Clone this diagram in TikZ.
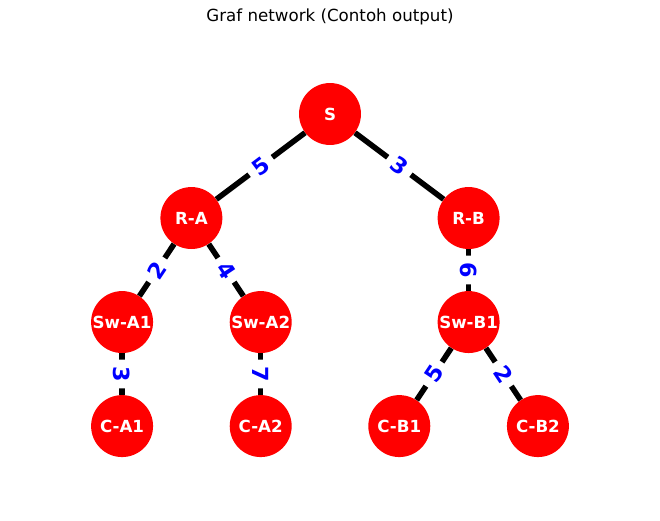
\documentclass[tikz,border=0pt]{standalone}
\usepackage{fontspec}
\setmainfont{DejaVu Sans}
\usetikzlibrary{positioning}
\definecolor{nodered}{RGB}{255,0,0}
\definecolor{labelblue}{RGB}{0,0,255}
\tikzset{%
  host/.style = {circle,fill=nodered,text=white,inner sep=0pt,
        minimum size=44.6pt,font=\fontsize{12}{14}\selectfont\bfseries},
  link/.style = {line width=4pt,black},
  w/.style = {midway,sloped,fill=white,rounded corners=3pt,inner sep=4.8pt,
        text=labelblue,font=\fontsize{16}{19}\selectfont\bfseries}
}
\begin{document}
\begin{tikzpicture}[on grid,node distance=74.9pt and 49.9pt]
   \useasboundingbox (-237.6pt,82.08pt) rectangle (237.6pt,-292.32pt);
   \node (title) at (0pt,69.8pt) {\fontsize{12}{14}\selectfont Graf network (Contoh output)};

   \node[host] (S) at (0,0) {S};
   \node[host] (R-A) [below left=74.9pt and 99.8pt of S] {R-A};
   \node[host] (R-B) [below right=74.9pt and 99.8pt of S] {R-B};
   \node[host] (Sw-A1) [below left=of R-A] {Sw-A1};
   \node[host] (Sw-A2) [below right=of R-A] {Sw-A2};
   \node[host] (Sw-B1) [below=of R-B] {Sw-B1};
   \node[host] (C-A1) [below=of Sw-A1] {C-A1};
   \node[host] (C-A2) [below=of Sw-A2] {C-A2};
   \node[host] (C-B1) [below left=of Sw-B1] {C-B1};
   \node[host] (C-B2) [below right=of Sw-B1] {C-B2};

   \draw[link] (S) -- node[w] {5} (R-A);
   \draw[link] (S) -- node[w] {3} (R-B);
   \draw[link] (R-A) -- node[w] {2} (Sw-A1);
   \draw[link] (R-A) -- node[w] {4} (Sw-A2);
   \draw[link] (R-B) -- node[w] {6} (Sw-B1);
   \draw[link] (Sw-A1) -- node[w] {3} (C-A1);
   \draw[link] (Sw-A2) -- node[w] {7} (C-A2);
   \draw[link] (Sw-B1) -- node[w] {5} (C-B1);
   \draw[link] (Sw-B1) -- node[w] {2} (C-B2);
\end{tikzpicture}
\end{document}
